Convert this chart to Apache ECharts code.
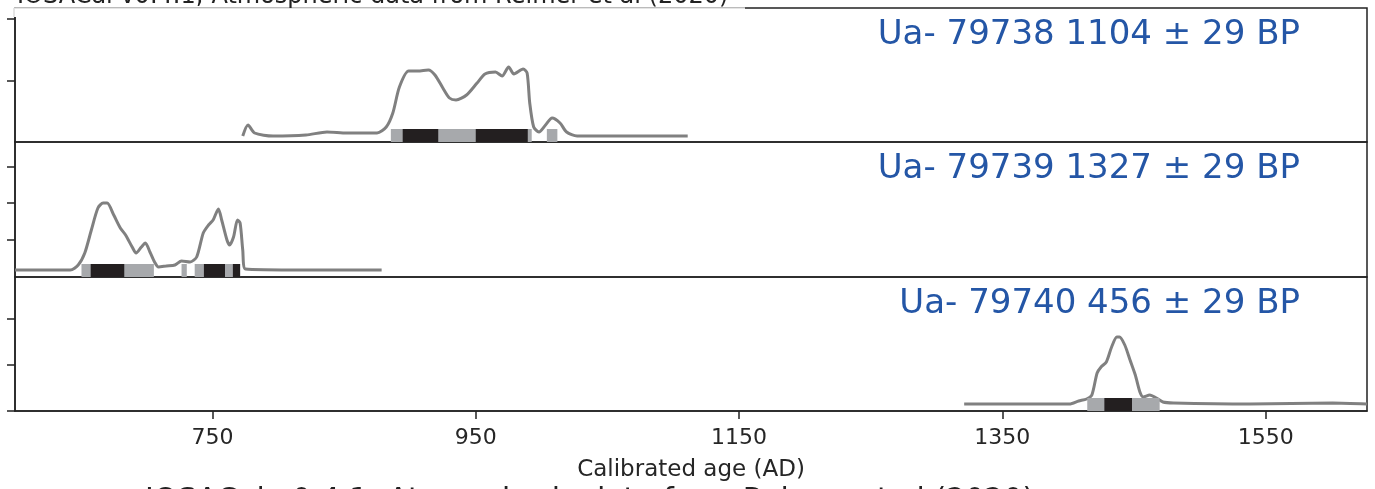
<!DOCTYPE html>
<html>
<head>
<meta charset="utf-8">
<title>IOSACal multiple calibration</title>
<script src="https://cdn.jsdelivr.net/npm/echarts@6/dist/echarts.min.js"></script>
<style>
  html, body { margin: 0; padding: 0; background: #fff; }
  #chart { width: 1375px; height: 489px; }
</style>
</head>
<body>
<div id="chart"></div>
<script>
// labels of the three dated samples
var sampleNames = ['Ua- 79738 1104 ± 29 BP', 'Ua- 79739 1327 ± 29 BP', 'Ua- 79740 456 ± 29 BP'];

// calibrated probability curves, [year AD, height]
var curveTop = [
  [773, 6], [777, 17], [782, 9], [796, 6], [821, 7], [837, 10], [852, 9], [875, 9],
  [882, 15], [887, 29], [892, 55], [899, 71], [906, 71], [914, 72], [919, 67], [925, 54],
  [930, 44], [935, 42], [943, 47], [951, 59], [957, 68], [965, 70], [970, 66], [975, 75],
  [979, 68], [986, 73], [989, 69], [991, 39], [994, 15], [998, 10], [1003, 17], [1008, 24],
  [1014, 19], [1019, 10], [1027, 6], [1060, 6], [1111, 6]
];
var curveMid = [
  [600, 7], [642, 7], [648, 12], [653, 24], [658, 47], [663, 69], [667, 74], [670, 74],
  [675, 62], [680, 49], [684, 42], [689, 30], [692, 24], [696, 30], [699, 34], [702.5, 25],
  [706, 15], [709, 10], [715, 11], [721.5, 12], [726.5, 16], [733, 15], [738, 20], [743, 44],
  [747, 52], [750.5, 57], [754.5, 68], [757, 57], [761, 37], [763, 32], [766, 40], [769, 57],
  [771, 54], [773, 27], [775, 8], [820, 7], [878.5, 7]
];
var curveBot = [
  [1321, 7], [1401, 7], [1408, 10], [1414, 12], [1418, 16], [1422, 38], [1425, 44], [1429, 49],
  [1433, 64], [1437, 74], [1439, 74], [1443, 66], [1447, 51], [1451, 36], [1454.5, 19], [1457, 14],
  [1462, 16], [1467, 13], [1472, 9], [1480, 8], [1538, 7], [1601, 8], [1627, 7]
];

// highest density ranges: 95% (grey) and 68% (black)
var hpd95Top = [[885.5, 992.5], [1004, 1012]];
var hpd68Top = [[894.5, 921.5], [950, 989.5]];
var hpd95Mid = [[650.5, 705.5], [726.5, 730.5], [736.5, 771]];
var hpd68Mid = [[657.5, 683], [743.5, 759.5], [765.5, 771]];
var hpd95Bot = [[1414.5, 1469.5]];
var hpd68Bot = [[1427.5, 1448.5]];

var xTicks = [750, 950, 1150, 1350, 1550];
var yTicksTop = [61, 123];
var yTicksMid = [37, 74, 110];
var yTicksBot = [0, 46, 92];

var caption = 'IOSACal v0.4.1; Atmospheric data from Reimer et al (2020)';

var chart = echarts.init(document.getElementById('chart'));

var font = 'DejaVu Sans';
var tops = [8, 142, 277];
var heights = [134, 135, 134];
var curves = [curveTop, curveMid, curveBot];
var h95 = [hpd95Top, hpd95Mid, hpd95Bot];
var h68 = [hpd68Top, hpd68Mid, hpd68Bot];
var yTicks = [yTicksTop, yTicksMid, yTicksBot];
var barH = 13;

function hpdSeries(i, ranges, color, z) {
  return {
    type: 'custom',
    xAxisIndex: i,
    yAxisIndex: i,
    z: z,
    silent: true,
    data: ranges,
    renderItem: function (params, api) {
      var p0 = api.coord([api.value(0), 0]);
      var p1 = api.coord([api.value(1), barH]);
      return {
        type: 'rect',
        shape: { x: p0[0], y: p1[1], width: p1[0] - p0[0], height: p0[1] - p1[1] },
        style: { fill: color }
      };
    }
  };
}

var grids = [], xAxes = [], yAxes = [], series = [], texts = [];
for (var i = 0; i < 3; i++) {
  grids.push({
    left: 15, right: 8, top: tops[i], height: heights[i],
    show: true, borderColor: '#222', borderWidth: 1.5
  });
  var last = i === 2;
  xAxes.push({
    gridIndex: i, type: 'value', min: 600, max: 1627,
    show: last,
    axisLine: { show: true, lineStyle: { color: '#222', width: 1.5 } },
    axisTick: { show: true, customValues: xTicks, length: 8, lineStyle: { color: '#222', width: 1.5 } },
    axisLabel: {
      show: true, customValues: xTicks, margin: 16, fontSize: 22, fontFamily: font, color: '#262626',
      formatter: function (v) { return String(v); }
    },
    splitLine: { show: false },
    name: last ? 'Calibrated age (AD)' : '',
    nameLocation: 'middle', nameGap: 48,
    nameTextStyle: { fontSize: 23, fontFamily: font, color: '#262626' }
  });
  yAxes.push({
    gridIndex: i, type: 'value', min: 0, max: heights[i],
    axisLine: { show: true, lineStyle: { color: '#222', width: 1.5 } },
    axisTick: { show: true, customValues: yTicks[i], length: 8, lineStyle: { color: '#222', width: 1.5 } },
    axisLabel: { show: false },
    splitLine: { show: false }
  });
  series.push({
    type: 'line', xAxisIndex: i, yAxisIndex: i, data: curves[i],
    showSymbol: false, smooth: 0.25, z: 3, silent: true,
    lineStyle: { color: '#808080', width: 3 }
  });
  series.push(hpdSeries(i, h95[i], '#a7a9ac', 4));
  series.push(hpdSeries(i, h68[i], '#231f20', 5));
  texts.push({
    type: 'text', right: 75, top: tops[i] + 10, z: 50,
    style: { text: sampleNames[i], fontSize: 34, fontFamily: font, fill: '#2456a6' }
  });
}

chart.setOption({
  animation: false,
  backgroundColor: '#fff',
  grid: grids,
  xAxis: xAxes,
  yAxis: yAxes,
  series: series,
  graphic: texts.concat([
    { type: 'rect', z: 100, shape: { x: 14, y: 8, width: 731, height: 9 },
      style: { fill: '#fff', stroke: null } },
    { type: 'line', z: 101, shape: { x1: 14, y1: 8, x2: 745, y2: 8 },
      style: { stroke: '#dcdcdc', lineWidth: 1.5 } },
    { type: 'line', z: 101, shape: { x1: 14, y1: 8, x2: 14, y2: 17 },
      style: { stroke: '#dcdcdc', lineWidth: 1.5 } },
    { type: 'text', z: 102, x: 17, y: -3,
      style: { text: caption, fontSize: 24, fontFamily: font, fill: '#222', verticalAlign: 'middle' } },
    { type: 'text', z: 102, x: 145, y: 501,
      style: { text: caption, fontSize: 30, fontFamily: font, fill: '#222', verticalAlign: 'middle' } }
  ])
});
</script>
</body>
</html>
